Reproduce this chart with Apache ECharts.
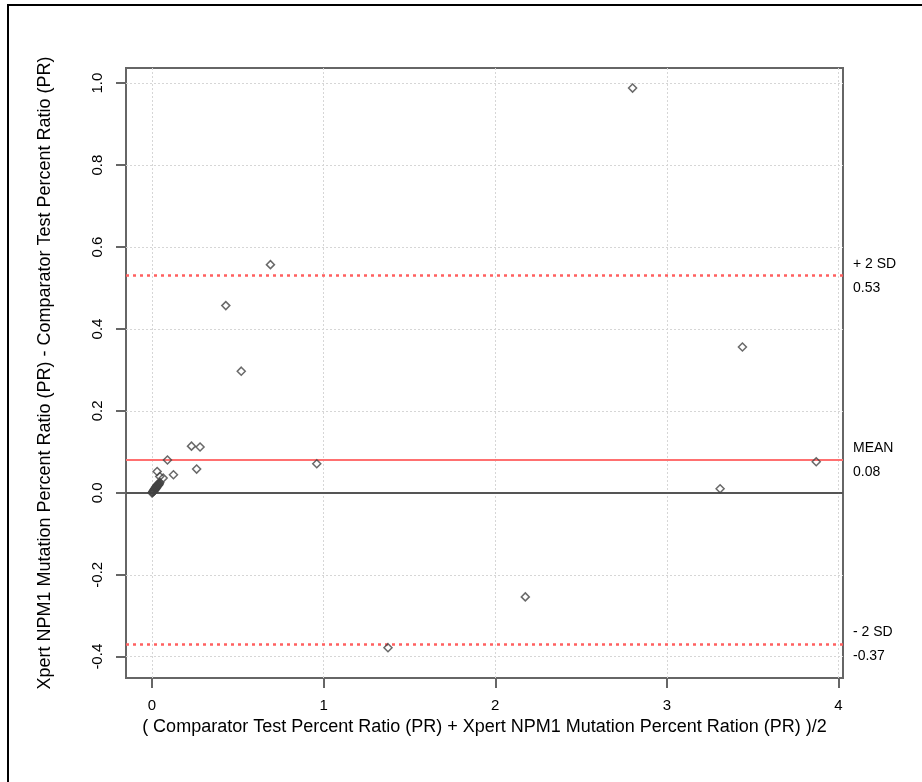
<!DOCTYPE html>
<html>
<head>
<meta charset="utf-8">
<script src="https://cdn.jsdelivr.net/npm/echarts@6/dist/echarts.min.js"></script>
<style>
  html, body { margin: 0; padding: 0; background: #fff; }
  #chart { width: 922px; height: 782px; }
</style>
</head>
<body>
<div id="chart"></div>
<script>
// Bland-Altman agreement: mean of the two percent ratios vs. their difference
const meanPR = [2.80, 0.69, 0.43, 0.52, 3.44, 0.23, 0.28, 0.09, 0.26, 0.96,
                0.125, 0.03, 0.065, 0.045, 3.87, 3.31, 2.175, 1.375,
                0.000, 0.003, 0.005, 0.008, 0.010, 0.012, 0.015, 0.017, 0.018, 0.020,
                0.022, 0.024, 0.025, 0.027, 0.028, 0.030, 0.032, 0.033, 0.035, 0.037,
                0.038, 0.040, 0.042, 0.045];
const diffPR = [0.988, 0.557, 0.457, 0.297, 0.356, 0.114, 0.112, 0.080, 0.058, 0.071,
                0.044, 0.052, 0.036, 0.040, 0.076, 0.010, -0.254, -0.378,
                0.000, 0.001, 0.002, 0.005, 0.004, 0.008, 0.006, 0.010, 0.011, 0.009,
                0.014, 0.013, 0.012, 0.016, 0.017, 0.015, 0.019, 0.020, 0.018, 0.021,
                0.022, 0.020, 0.023, 0.025];

const meanDiff = 0.08;
const upperLimit = 0.53;
const lowerLimit = -0.37;

const xTicks = [0, 1, 2, 3, 4];
const yTicks = [-0.4, -0.2, 0.0, 0.2, 0.4, 0.6, 0.8, 1.0];

const xTitle = '( Comparator Test Percent Ratio (PR) + Xpert NPM1 Mutation Percent Ration (PR) )/2';
const yTitle = 'Xpert NPM1 Mutation Percent Ratio (PR) - Comparator Test Percent Ratio (PR)';

const FONT = '"Liberation Sans", Arial, sans-serif';

const points = meanPR.map((x, i) => [x, diffPR[i]]);

const gridStyle = { color: '#d6d6d6', width: 1, type: [2, 2] };
const gridLines = [
  ...xTicks.map(v => ({ xAxis: v, lineStyle: gridStyle })),
  ...yTicks.filter(v => v !== 0).map(v => ({ yAxis: v, lineStyle: gridStyle }))
];

const chart = echarts.init(document.getElementById('chart'), null, { renderer: 'canvas' });

chart.setOption({
  animation: false,
  backgroundColor: '#fff',
  textStyle: { fontFamily: FONT },
  grid: {
    left: 126, right: 79, top: 68, bottom: 104,
    show: true, borderColor: '#666', borderWidth: 2, backgroundColor: 'transparent'
  },
  xAxis: {
    type: 'value',
    min: -0.1515, max: 4.026,
    name: xTitle,
    nameLocation: 'middle',
    nameGap: 38,
    nameTextStyle: { fontSize: 18, color: '#000', fontFamily: FONT },
    axisLine: { show: true, onZero: false, lineStyle: { color: '#666', width: 2 } },
    axisTick: { show: true, inside: false, customValues: xTicks, length: 10, lineStyle: { color: '#666', width: 2 } },
    axisLabel: { customValues: xTicks, fontSize: 15, color: '#000', margin: 20, fontFamily: FONT,
                 formatter: v => String(Math.round(v)) },
    splitLine: { show: false }
  },
  yAxis: {
    type: 'value',
    min: -0.452, max: 1.037,
    name: yTitle,
    nameLocation: 'middle',
    nameGap: 72,
    nameTextStyle: { fontSize: 18, color: '#000', fontFamily: FONT },
    axisLine: { show: true, onZero: false, lineStyle: { color: '#666', width: 2 } },
    axisTick: { show: true, inside: false, customValues: yTicks, length: 10, lineStyle: { color: '#666', width: 2 } },
    axisLabel: { customValues: yTicks, fontSize: 15, color: '#000', margin: 21, rotate: 90, fontFamily: FONT,
                 formatter: v => v.toFixed(1) },
    splitLine: { show: false }
  },
  graphic: [
    { type: 'line', shape: { x1: 8, y1: 5, x2: 8, y2: 782 }, style: { stroke: '#000', lineWidth: 2 } },
    { type: 'line', shape: { x1: 7, y1: 5, x2: 922, y2: 5 }, style: { stroke: '#000', lineWidth: 2 } }
  ],
  series: [
    {
      // reference grid and zero line
      type: 'line',
      data: [],
      silent: true,
      markLine: {
        silent: true,
        symbol: 'none',
        label: { show: false },
        data: [
          ...gridLines,
          { yAxis: 0, lineStyle: { color: '#555', width: 2, type: 'solid' } }
        ]
      },
      z: 1
    },
    {
      // mean difference and limits of agreement
      type: 'line',
      data: [],
      silent: true,
      markLine: {
        silent: true,
        symbol: 'none',
        label: {
          show: true, position: 'end', distance: 10,
          fontSize: 14, color: '#000', lineHeight: 24, align: 'left', fontFamily: FONT
        },
        data: [
          { yAxis: upperLimit, lineStyle: { color: '#ff6060', width: 2.5, type: [3, 4] },
            label: { formatter: '+ 2 SD\n' + upperLimit.toFixed(2) } },
          { yAxis: meanDiff, lineStyle: { color: '#ff7070', width: 2, type: 'solid' },
            label: { formatter: 'MEAN\n' + meanDiff.toFixed(2) } },
          { yAxis: lowerLimit, lineStyle: { color: '#ff6060', width: 2.5, type: [3, 4] },
            label: { formatter: '- 2 SD\n' + lowerLimit.toFixed(2) } }
        ]
      },
      z: 2
    },
    {
      type: 'scatter',
      data: points,
      symbol: 'diamond',
      symbolSize: 8,
      itemStyle: { color: 'rgba(255,255,255,0)', borderColor: '#444', borderWidth: 1.5 },
      z: 5
    }
  ]
});
</script>
</body>
</html>
